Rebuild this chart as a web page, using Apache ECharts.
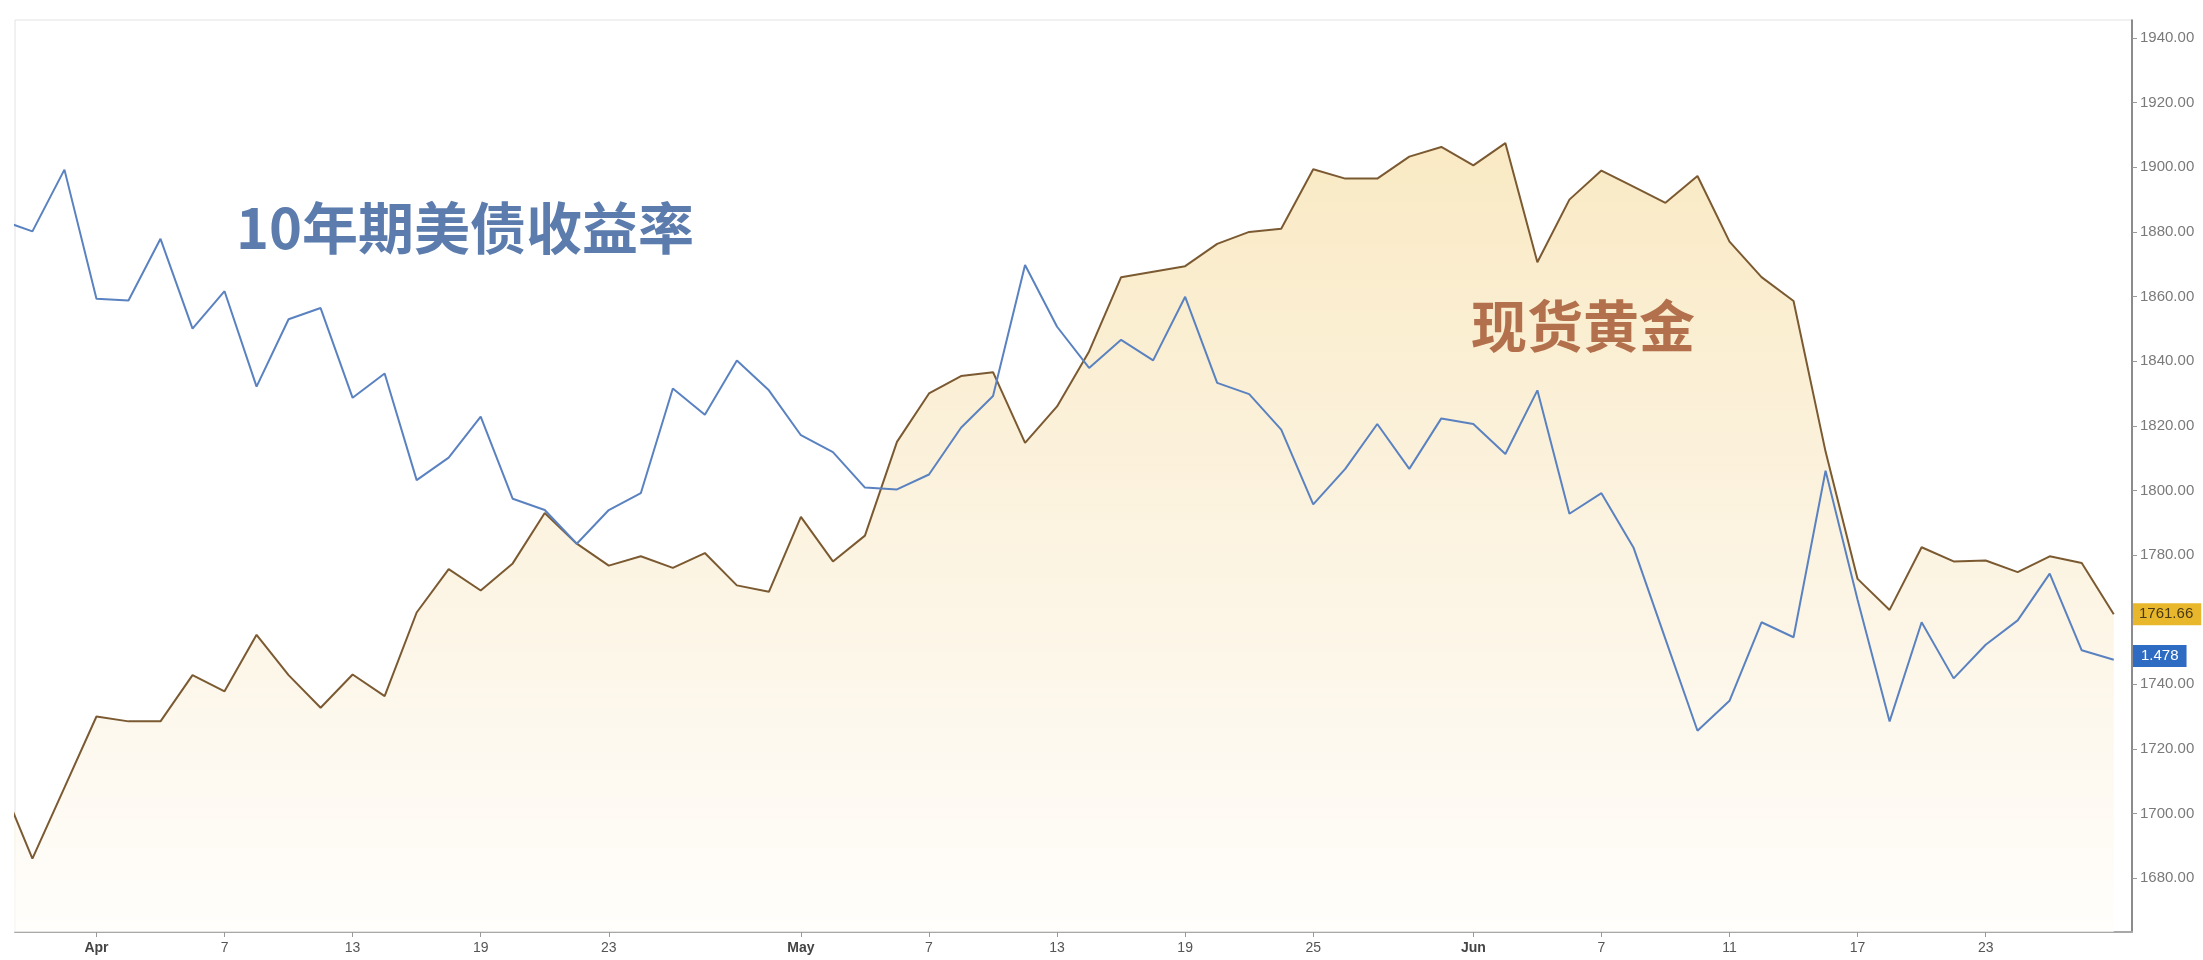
<!DOCTYPE html>
<html>
<head>
<meta charset="utf-8">
<script src="https://cdn.jsdelivr.net/npm/echarts@6/dist/echarts.min.js"></script>
<style>
html,body{margin:0;padding:0;background:#fff;}
#chart{width:2203px;height:960px;}
</style>
</head>
<body>
<div id="chart"></div>
<script>
// Trading days (2021)
const dates = ['03-29','03-30','03-31','04-01','04-02','04-05','04-06','04-07','04-08','04-09','04-12','04-13','04-14','04-15','04-16','04-19','04-20','04-21','04-22','04-23','04-26','04-27','04-28','04-29','04-30','05-03','05-04','05-05','05-06','05-07','05-10','05-11','05-12','05-13','05-14','05-17','05-18','05-19','05-20','05-21','05-24','05-25','05-26','05-27','05-28','05-31','06-01','06-02','06-03','06-04','06-07','06-08','06-09','06-10','06-11','06-14','06-15','06-16','06-17','06-18','06-21','06-22','06-23','06-24','06-25','06-28','06-29'];

// Spot gold (USD/oz)
const gold = [1710,1686,1708,1730,1728.5,1728.5,1742.8,1737.8,1755.3,1742.8,1732.7,1743,1736.3,1762.2,1775.6,1769,1777.4,1793,1783.5,1776.7,1779.6,1776,1780.6,1770.6,1768.6,1791.8,1778,1786,1815,1830,1835.4,1836.6,1814.7,1826,1843,1866,1867.7,1869.4,1876.3,1880,1881,1899.4,1896.5,1896.5,1903.3,1906.3,1900.6,1907.5,1870.6,1890,1899,1894,1889,1897.3,1877,1866,1858.6,1812,1772.6,1763,1782.4,1778,1778.3,1774.7,1779.6,1777.5,1761.66];

// US 10-year Treasury yield (%)
const yields = [1.713,1.707,1.740,1.671,1.670,1.703,1.655,1.675,1.624,1.660,1.666,1.618,1.631,1.574,1.586,1.608,1.564,1.558,1.540,1.558,1.567,1.623,1.609,1.638,1.622,1.598,1.589,1.570,1.569,1.577,1.602,1.619,1.689,1.656,1.634,1.649,1.638,1.672,1.626,1.620,1.601,1.561,1.580,1.604,1.580,1.607,1.604,1.588,1.622,1.556,1.567,1.538,1.489,1.440,1.456,1.498,1.490,1.579,1.510,1.445,1.498,1.468,1.486,1.499,1.524,1.483,1.478];

// X tick labels
const tickDates  = ['04-01','04-07','04-13','04-19','04-23','05-03','05-07','05-13','05-19','05-25','06-01','06-07','06-11','06-17','06-23'];
const tickLabels = ['Apr','7','13','19','23','May','7','13','19','25','Jun','7','11','17','23'];

// Y tick labels (gold axis)
const goldTicks = [1680,1700,1720,1740,1760,1780,1800,1820,1840,1860,1880,1900,1920,1940];

const tickIdx = tickDates.map(d => dates.indexOf(d));
const labelOf = {};
tickIdx.forEach((ix, k) => { labelOf[ix] = tickLabels[k]; });
const monthNames = ['Apr','May','Jun'];

const goldData = gold.map((v, i) => [i, v]);
const yieldData = yields.map((v, i) => [i, v]);
const lastGold = gold[gold.length - 1];
const lastYield = yields[yields.length - 1];

const FONT_AX = '"Liberation Sans", Arial, sans-serif';
const FONT_X = '"Liberation Sans Narrow", "Arial Narrow", "Liberation Sans", sans-serif';

function endTag(axisIndex, value, text, bg, fg, pad) {
  return {
    type: 'line',
    data: [],
    yAxisIndex: axisIndex,
    clip: false,
    silent: true,
    z: 5,
    markLine: {
      silent: true,
      symbol: ['none', 'none'],
      animation: false,
      lineStyle: {color: 'rgba(0,0,0,0)', width: 0},
      label: {
        show: true, position: 'end', distance: 1,
        formatter: () => text,
        backgroundColor: bg, color: fg,
        padding: pad, fontSize: 15,
        fontFamily: FONT_AX
      },
      data: [{yAxis: value}]
    }
  };
}

const chart = echarts.init(document.getElementById('chart'), null, {renderer: 'canvas'});
chart.setOption({
  animation: false,
  backgroundColor: '#ffffff',
  grid: {
    left: 15, right: 71, top: 20, bottom: 28,
    show: true, borderColor: '#e2e2e2', borderWidth: 1, backgroundColor: 'transparent'
  },
  xAxis: {
    type: 'value',
    min: 0.456, max: 66.57,
    axisLine: {show: true, onZero: false, lineStyle: {color: '#a8a8a8', width: 2}},
    axisTick: {show: true, customValues: tickIdx, length: 5, lineStyle: {color: '#999'}},
    splitLine: {show: false},
    axisLabel: {
      customValues: tickIdx,
      margin: 9,
      formatter: v => {
        const t = labelOf[Math.round(v)] || '';
        return monthNames.includes(t) ? '{m|' + t + '}' : t;
      },
      color: '#555',
      fontSize: 14,
      fontFamily: FONT_X,
      rich: {m: {fontWeight: 'bold', color: '#444', fontSize: 14, fontFamily: FONT_X}}
    }
  },
  yAxis: [
    {
      type: 'value',
      position: 'right',
      min: 1663.3, max: 1945.6,
      axisLine: {show: true, lineStyle: {color: '#6a6a6a', width: 1.5}},
      axisTick: {show: true, customValues: goldTicks, length: 5, lineStyle: {color: '#999'}},
      splitLine: {show: false},
      axisLabel: {
        customValues: goldTicks,
        margin: 8,
        formatter: v => v.toFixed(2),
        color: '#7a7a7a',
        fontSize: 15,
        fontFamily: FONT_AX
      }
    },
    {
      type: 'value',
      show: false,
      min: 1.3324, max: 1.8200
    }
  ],
  series: [
    {
      name: '现货黄金',
      type: 'line',
      data: goldData,
      yAxisIndex: 0,
      symbol: 'none',
      z: 2,
      lineStyle: {color: '#7b5a32', width: 2},
      areaStyle: {
        origin: 'start',
        color: new echarts.graphic.LinearGradient(0, 0, 0, 1, [
          {offset: 0, color: '#f7e1ab'},
          {offset: 0.45, color: '#faedd0'},
          {offset: 1, color: '#fffdfa'}
        ])
      }
    },
    {
      name: '10年期美债收益率',
      type: 'line',
      data: yieldData,
      yAxisIndex: 1,
      symbol: 'none',
      z: 3,
      lineStyle: {color: '#5a82c0', width: 2}
    },
    endTag(0, lastGold, lastGold.toFixed(2), '#e8b72c', '#4a3a14', [4, 8, 3, 6]),
    endTag(1, lastYield, lastYield.toFixed(3), '#2e6cc3', '#ffffff', [4, 8, 3, 8])
  ],
  graphic: [
    {
      type: 'text', left: 236, top: 200, z: 10,
      style: {
        text: '10年期美债收益率',
        fill: '#5b7cad',
        font: 'bold 56px "Noto Sans CJK SC", sans-serif'
      }
    },
    {
      type: 'text', left: 1471, top: 298, z: 10,
      style: {
        text: '现货黄金',
        fill: '#b3704c',
        font: 'bold 56px "Noto Sans CJK SC", sans-serif'
      }
    }
  ]
});
</script>
</body>
</html>
